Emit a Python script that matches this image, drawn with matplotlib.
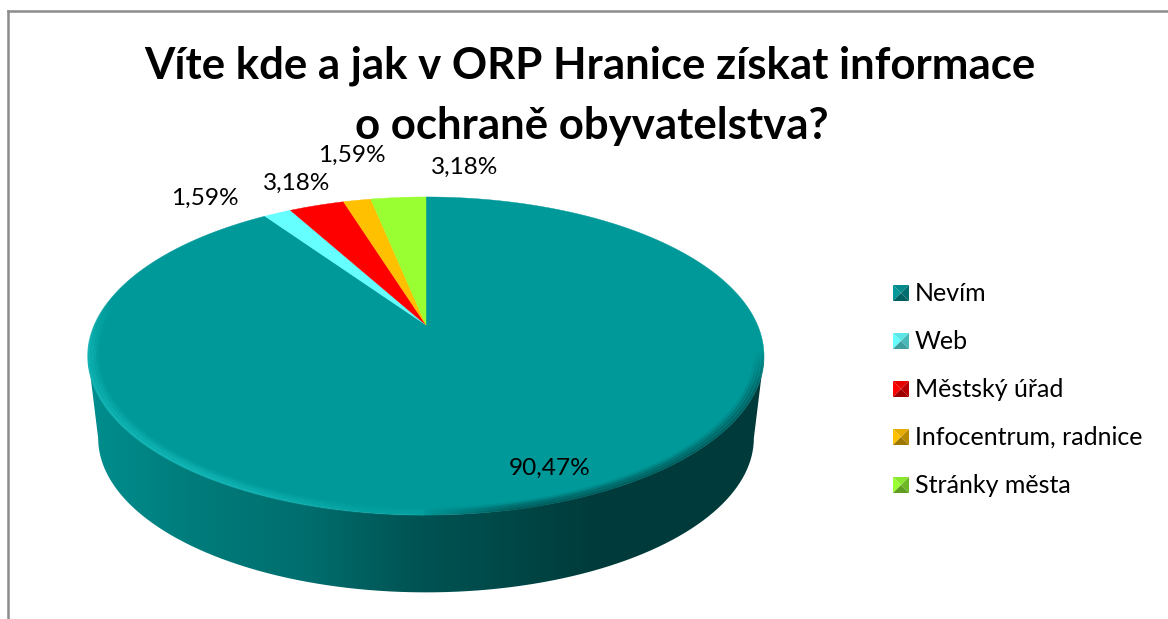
import numpy as np
import matplotlib
matplotlib.use("Agg")
import matplotlib.pyplot as plt
from matplotlib.collections import LineCollection
from matplotlib.colors import LinearSegmentedColormap, to_rgb
from matplotlib.patches import PathPatch
from matplotlib.path import Path

plt.rcParams['font.family'] = ['Lato', 'DejaVu Sans']

# Data
title_lines = ["Víte kde a jak v ORP Hranice získat informace", "o ochraně obyvatelstva?"]
categories = ["Nevím", "Web", "Městský úřad", "Infocentrum, radnice", "Stránky města"]
values = [90.47, 1.59, 3.18, 1.59, 3.18]
colors = ["#009999", "#66ffff", "#ff0000", "#ffc000", "#99ff33"]

# where the percent labels sit, in pixels
label_xy = [(550, 468), (205, 198), (297, 183), (352, 155), (465, 167)]
legend_y = [293, 341, 389, 437, 485]

# pie geometry: a circle seen in perspective
cx, cy = 426, 325
A, B, k = 331.5, 153, 0.195
depth_dy, depth_scale = 83, 0.97


def project(theta, r=1.0, dy=0, scale=1.0):
    u = r * np.sin(theta)
    v = r * np.cos(theta)
    w = 1 + k * v
    return cx + scale * A * u / w, cy + dy - scale * B * v / w


def rim_line(r, width, alpha_scale):
    th = np.linspace(np.pi * 0.5, np.pi * 1.6, 600)
    rx, ry = project(th, r=r)
    pts = np.column_stack([rx, ry]).reshape(-1, 1, 2)
    segs = np.concatenate([pts[:-1], pts[1:]], axis=1)
    light = np.array(to_rgb("#14b8b8"))
    dark = np.array(to_rgb("#004a4a"))
    rgba = []
    for xm, ym in zip(rx[:-1], ry[:-1]):
        if xm < 426:
            f = np.clip((426 - xm) / 230, 0.25, 1) * np.clip((ym - 300) / 50, 0, 1)
            rgba.append([*light, f * alpha_scale])
        else:
            f = np.clip((xm - 426) / 90, 0, 1) * np.clip((ym - 350) / 40, 0, 1)
            rgba.append([*dark, f * alpha_scale * 0.7])
    ax.add_collection(LineCollection(segs, colors=rgba, linewidths=width, zorder=3))


fig = plt.figure(figsize=(11.68, 6.19), dpi=100)
ax = fig.add_axes([0, 0, 1, 1])

# side of the pie, dark towards the right
widest = np.arccos(-k)
t = np.linspace(widest, 2 * np.pi - widest, 300)
bx, by = project(t, dy=depth_dy, scale=depth_scale)
tx, ty = project(t[::-1])
side = Path(np.column_stack([np.r_[bx, tx], np.r_[by, ty]]))
side_cmap = LinearSegmentedColormap.from_list(
    "side", [(0, "#008e8e"), (0.15, "#007c7c"), (0.32, "#006e6e"), (0.47, "#005555"),
             (0.62, "#004848"), (0.75, "#003b3b"), (1, "#003a3a")])
im = ax.imshow(np.linspace(0, 1, 512).reshape(1, -1), cmap=side_cmap, aspect="auto",
               extent=[88, 765, 600, 300], zorder=1)
im.set_clip_path(PathPatch(side, transform=ax.transData))

# top of the pie, clockwise from twelve o'clock
fractions = np.array(values) / sum(values)
start = 0.0
for i, frac in enumerate(fractions):
    stop = start + frac * 2 * np.pi
    th = np.linspace(start, stop, max(int(frac * 720), 4))
    x, y = project(th)
    ax.fill(np.r_[cx, x], np.r_[cy, y], color=colors[i], lw=0.3, zorder=2)
    start = stop

# bevel along the front rim
rim_line(0.975, 3, 0.2)
rim_line(0.983, 3, 0.4)
rim_line(0.991, 3, 0.6)
rim_line(0.998, 2, 0.85)

# percent labels
for val, (lx, ly) in zip(values, label_xy):
    ax.text(lx, ly, f"{val:.2f}%".replace(".", ","), fontsize=17.6, color="black",
            ha="center", va="center", zorder=5)

# legend with the little pyramid keys
for name, col, ly in zip(categories, colors, legend_y):
    c = np.array(to_rgb(col))
    x0, x1, y0, y1 = 893, 909, ly - 8, ly + 8
    xm, ym = (x0 + x1) / 2, (y0 + y1) / 2
    ax.fill([x0, xm, x0], [y0, ym, y1], color=c, lw=0, zorder=4)
    ax.fill([x0, xm, x1], [y0, ym, y0], color=c * 0.9, lw=0, zorder=4)
    ax.fill([x1, xm, x1], [y0, ym, y1], color=c * 0.72, lw=0, zorder=4)
    ax.fill([x0, xm, x1], [y1, ym, y1], color=c * 0.62, lw=0, zorder=4)
    ax.text(915, ly + 8, name, fontsize=18, color="black", ha="left", va="baseline", zorder=5)

# title, two lines set by hand because the line gap is wide
for line, tx_line, ty_line in zip(title_lines, [590, 592], [79, 139]):
    ax.text(tx_line, ty_line, line, fontsize=31.5, fontweight="bold", color="black",
            ha="center", va="baseline", zorder=6)

# chart frame, only top and left are in the crop
ax.plot([7.5, 1168], [11, 11], color="#8c8c8c", lw=1.8, zorder=7)
ax.plot([7.5, 7.5], [11, 619], color="#8c8c8c", lw=1.8, zorder=7)

ax.set_xlim(0, 1168)
ax.set_ylim(619, 0)
ax.axis("off")
fig.savefig("out.png", dpi=100, facecolor="white")
